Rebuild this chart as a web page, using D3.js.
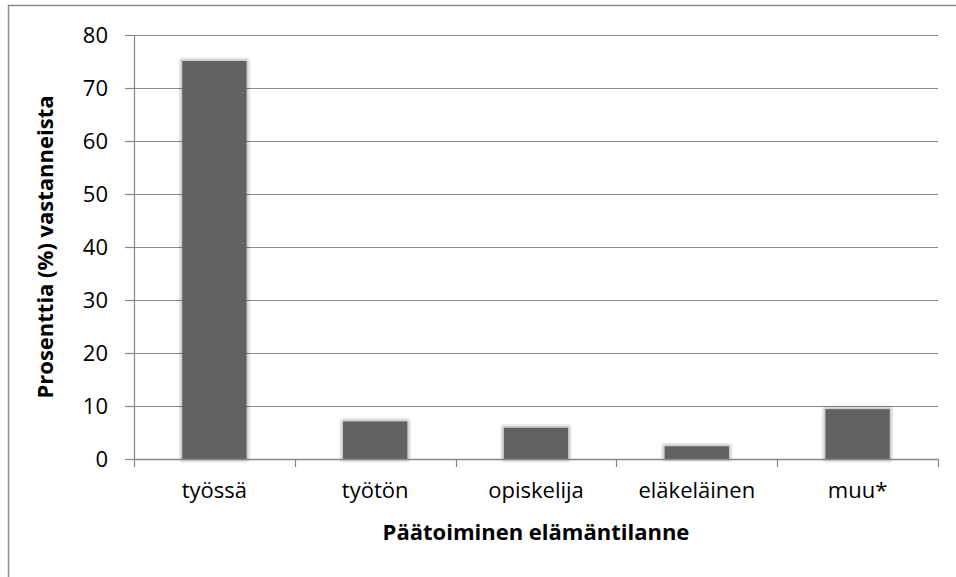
<!DOCTYPE html>
<html>
<head>
<meta charset="utf-8">
<script src="https://cdn.jsdelivr.net/npm/d3@7"></script>
<style>
  body { margin: 0; background: #fff; }
  svg { display: block; font-family: 'Open Sans', sans-serif; }
</style>
</head>
<body>
<svg></svg>
<script>
const categories = ['työssä', 'työtön', 'opiskelija', 'eläkeläinen', 'muu*']
const values = [75.1, 7.1, 5.9, 2.4, 9.4]
const yTicks = [0, 10, 20, 30, 40, 50, 60, 70, 80]
const yTitle = 'Prosenttia (%) vastanneista'
const xTitle = 'Päätoiminen elämäntilanne'

const W = 956
const H = 577
const pd = { top: 35, left: 134, right: 18, bottom: 118 }
const width = W - pd.left - pd.right
const height = H - pd.top - pd.bottom
const fs = 22

const svg = d3.select('svg')
  .attr('width', W)
  .attr('height', H)

// chart frame
svg.append('rect')
  .attr('x', 8.5)
  .attr('y', 5.5)
  .attr('width', W + 20)
  .attr('height', H + 20)
  .attr('fill', 'none')
  .attr('stroke', '#8c8c8c')
  .attr('stroke-width', 1.5)

const defs = svg.append('defs')
const sh = defs.append('filter')
  .attr('id', 'shadow')
  .attr('x', '-20%').attr('y', '-20%')
  .attr('width', '140%').attr('height', '140%')
sh.append('feMorphology')
  .attr('in', 'SourceAlpha')
  .attr('operator', 'dilate')
  .attr('radius', 1.5)
  .attr('result', 'd')
sh.append('feGaussianBlur').attr('in', 'd').attr('stdDeviation', 1.5).attr('result', 'b')
sh.append('feComponentTransfer').attr('in', 'b').attr('result', 'c')
  .append('feFuncA').attr('type', 'linear').attr('slope', 0.25)
const mg = sh.append('feMerge')
mg.append('feMergeNode').attr('in', 'c')
mg.append('feMergeNode').attr('in', 'SourceGraphic')

const x = d3.scaleBand()
  .domain(categories)
  .range([0, width])
  .paddingInner(0.6)
  .paddingOuter(0.3)

const y = d3.scaleLinear()
  .domain([0, 80])
  .range([height, 0])

const g = svg.append('g')
  .attr('transform', `translate(${pd.left}, ${pd.top})`)

// gridlines
g.append('g')
  .selectAll('line')
  .data(yTicks.filter(v => v > 0))
  .enter()
  .append('line')
  .attr('x1', 0)
  .attr('x2', width)
  .attr('y1', d => Math.round(y(d)) + 0.5)
  .attr('y2', d => Math.round(y(d)) + 0.5)
  .attr('stroke', '#888')
  .attr('stroke-width', 1.2)

// y axis
const ya = g.append('g')
  .call(d3.axisLeft(y).tickValues(yTicks).tickSize(9).tickPadding(17))
ya.select('.domain').attr('stroke', '#888').attr('stroke-width', 1.2)
  .attr('d', `M0.5,0V${height}`)
ya.selectAll('.tick line').attr('stroke', '#888').attr('stroke-width', 1.2)
ya.selectAll('.tick text')
  .attr('font-size', fs)
  .attr('font-family', "'Open Sans', sans-serif")
  .attr('fill', '#000')

// bars
g.append('g')
  .selectAll('rect')
  .data(values)
  .enter()
  .append('rect')
  .attr('x', (d, i) => x(categories[i]))
  .attr('y', d => y(d))
  .attr('width', x.bandwidth())
  .attr('height', d => height - y(d))
  .attr('fill', '#626262')
  .attr('filter', 'url(#shadow)')

// x axis
const step = width / categories.length
const xa = g.append('g')
  .attr('transform', `translate(0, ${height})`)
xa.append('line')
  .attr('x1', 0).attr('x2', width)
  .attr('y1', 0.5).attr('y2', 0.5)
  .attr('stroke', '#888')
  .attr('stroke-width', 1.5)
xa.selectAll('line.tk')
  .data(d3.range(categories.length + 1))
  .enter()
  .append('line')
  .attr('class', 'tk')
  .attr('x1', i => Math.round(i * step) + 0.5)
  .attr('x2', i => Math.round(i * step) + 0.5)
  .attr('y1', 0)
  .attr('y2', 8)
  .attr('stroke', '#888')
  .attr('stroke-width', 1.2)
xa.selectAll('text')
  .data(categories)
  .enter()
  .append('text')
  .attr('x', d => x(d) + x.bandwidth() / 2)
  .attr('y', 39)
  .attr('text-anchor', 'middle')
  .attr('font-size', fs)
  .attr('fill', '#000')
  .text(d => d)

// titles
svg.append('text')
  .attr('x', pd.left + width / 2)
  .attr('y', 540)
  .attr('text-anchor', 'middle')
  .attr('font-size', fs)
  .attr('font-weight', 'bold')
  .text(xTitle)

svg.append('text')
  .attr('transform', `translate(53, ${pd.top + height / 2}) rotate(-90)`)
  .attr('text-anchor', 'middle')
  .attr('font-size', fs)
  .attr('font-weight', 'bold')
  .text(yTitle)
</script>
</body>
</html>
